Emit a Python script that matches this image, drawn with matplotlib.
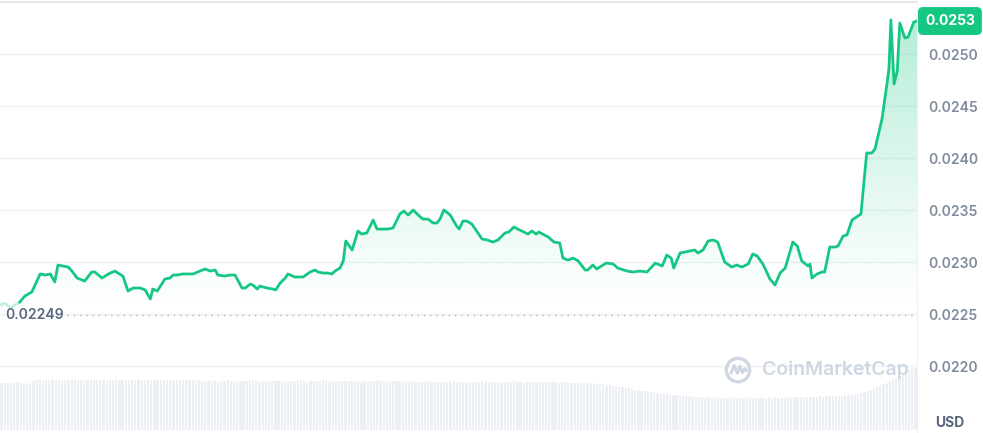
"""24h price chart in the CoinMarketCap style: green line, gradient fill, volume strip."""
import matplotlib
matplotlib.use("Agg")
import matplotlib.pyplot as plt                                    # noqa: E402
import numpy as np                                                 # noqa: E402
from matplotlib.patches import Circle                              # noqa: E402

plt.rcParams["font.family"] = ["Inter", "DejaVu Sans"]

# minutes since start of the 24h window, and price in USD
minutes = [
    0, 8, 16, 31, 39, 50, 63, 71, 79, 86,
    91, 107, 113, 121, 133, 144, 149, 160, 173, 181,
    185, 193, 201, 209, 220, 228, 236, 240, 247, 259,
    267, 272, 278, 287, 303, 314, 322, 330, 338, 342,
    353, 361, 369, 380, 385, 393, 397, 404, 408, 419,
    429, 433, 440, 448, 452, 463, 476, 487, 495, 499,
    507, 515, 521, 526, 534, 539, 543, 553, 562, 568,
    576, 586, 592, 601, 609, 617, 628, 634, 641, 649,
    655, 664, 672, 680, 686, 691, 697, 707, 716, 721,
    727, 733, 741, 757, 765, 774, 782, 793, 799, 807,
    813, 829, 835, 842, 846, 861, 870, 879, 884, 892,
    900, 908, 919, 923, 931, 937, 952, 963, 970, 985,
    994, 1005, 1016, 1029, 1040, 1047, 1054, 1058, 1068, 1076,
    1083, 1091, 1096, 1104, 1112, 1120, 1127, 1138, 1149, 1157,
    1165, 1175, 1182, 1189, 1198, 1209, 1217, 1225, 1233, 1245,
    1252, 1259, 1269, 1272, 1275, 1283, 1291, 1295, 1303, 1311,
    1316, 1324, 1330, 1338, 1352, 1361, 1369, 1374, 1385, 1393,
    1396, 1399, 1404, 1409, 1413, 1421, 1426, 1435, 1440,
]
prices = [
    0.022587, 0.022606, 0.022558, 0.022615, 0.022673, 0.022712, 0.022885, 0.022875, 0.022885, 0.022808,
    0.022971, 0.022952, 0.022913, 0.022846, 0.022817, 0.022904, 0.022904, 0.022846, 0.022894, 0.022913,
    0.022894, 0.022865, 0.022721, 0.022750, 0.022750, 0.022731, 0.022644, 0.022740, 0.022721, 0.022837,
    0.022846, 0.022875, 0.022875, 0.022885, 0.022885, 0.022913, 0.022933, 0.022913, 0.022923, 0.022875,
    0.022865, 0.022875, 0.022875, 0.022750, 0.022750, 0.022788, 0.022779, 0.022740, 0.022769, 0.022750,
    0.022740, 0.022731, 0.022798, 0.022846, 0.022885, 0.022856, 0.022856, 0.022904, 0.022923, 0.022904,
    0.022894, 0.022894, 0.022885, 0.022913, 0.022942, 0.023010, 0.023202, 0.023115, 0.023298, 0.023269,
    0.023279, 0.023404, 0.023317, 0.023317, 0.023317, 0.023327, 0.023462, 0.023490, 0.023452, 0.023500,
    0.023462, 0.023413, 0.023413, 0.023375, 0.023375, 0.023413, 0.023500, 0.023452, 0.023356, 0.023317,
    0.023394, 0.023394, 0.023365, 0.023221, 0.023212, 0.023192, 0.023212, 0.023279, 0.023288, 0.023337,
    0.023317, 0.023269, 0.023298, 0.023269, 0.023288, 0.023240, 0.023192, 0.023183, 0.023038, 0.023019,
    0.023038, 0.023010, 0.022923, 0.022923, 0.022971, 0.022933, 0.022990, 0.022981, 0.022942, 0.022913,
    0.022904, 0.022913, 0.022904, 0.022990, 0.022962, 0.023067, 0.023038, 0.022942, 0.023087, 0.023096,
    0.023106, 0.023115, 0.023087, 0.023115, 0.023202, 0.023212, 0.023192, 0.023000, 0.022952, 0.022971,
    0.022952, 0.022981, 0.023077, 0.023058, 0.022981, 0.022837, 0.022779, 0.022894, 0.022942, 0.023192,
    0.023154, 0.023010, 0.022962, 0.022981, 0.022846, 0.022885, 0.022904, 0.022904, 0.023144, 0.023144,
    0.023154, 0.023250, 0.023260, 0.023404, 0.023462, 0.024048, 0.024048, 0.024086, 0.024375, 0.024721,
    0.024865, 0.025327, 0.024711, 0.024837, 0.025298, 0.025154, 0.025163, 0.025308, 0.025317,
]
open_price = 0.02249

# 5-minute volume, relative units
volume = [
    47, 47, 46, 47, 47, 48, 47, 47, 46, 47, 49, 50,
    50, 49, 50, 50, 51, 50, 50, 49, 50, 50, 51, 50,
    50, 50, 49, 50, 50, 51, 50, 50, 50, 49, 50, 50,
    51, 50, 50, 50, 49, 50, 50, 51, 50, 50, 50, 49,
    50, 50, 51, 50, 50, 50, 49, 50, 50, 50, 51, 50,
    50, 49, 50, 49, 49, 50, 49, 49, 48, 49, 49, 50,
    49, 49, 48, 49, 49, 49, 50, 49, 49, 48, 49, 49,
    49, 50, 49, 49, 49, 48, 49, 49, 49, 50, 49, 49,
    48, 49, 49, 49, 49, 50, 49, 48, 49, 49, 49, 49,
    49, 49, 50, 49, 49, 48, 49, 49, 49, 49, 50, 49,
    49, 48, 49, 49, 49, 49, 48, 48, 48, 49, 48, 48,
    48, 48, 49, 48, 48, 48, 47, 48, 48, 48, 49, 48,
    48, 48, 48, 47, 48, 48, 48, 49, 48, 48, 48, 48,
    47, 48, 48, 48, 48, 49, 48, 48, 47, 48, 48, 48,
    48, 48, 47, 48, 48, 48, 48, 47, 48, 48, 48, 47,
    47, 48, 47, 47, 47, 46, 47, 46, 46, 46, 45, 45,
    44, 44, 43, 43, 42, 42, 41, 40, 40, 39, 39, 38,
    38, 37, 37, 36, 36, 36, 35, 35, 35, 34, 34, 34,
    34, 33, 33, 33, 33, 32, 33, 32, 32, 33, 32, 32,
    32, 32, 33, 32, 32, 32, 32, 33, 32, 32, 32, 32,
    32, 33, 32, 32, 32, 32, 33, 33, 32, 33, 33, 33,
    33, 33, 33, 33, 33, 34, 33, 34, 34, 34, 34, 34,
    34, 35, 35, 35, 36, 36, 37, 38, 39, 40, 42, 43,
    44, 46, 47, 49, 50, 52, 54, 56, 58, 60, 61, 62,
]

price_ticks = [0.0220, 0.0225, 0.0230, 0.0235, 0.0240, 0.0245, 0.0250]

GREEN = "#16c784"
GRID = "#eff2f5"
LABEL = "#808a9d"
DARK = "#58667e"
MARK = "#cfd6e4"

W, H = 983, 433


def box(x0, y0, x1, y1):
    """figure rect from pixel box (top-left origin)"""
    return [x0 / W, 1 - y1 / H, (x1 - x0) / W, (y1 - y0) / H]


fig = plt.figure(figsize=(W / 100, H / 100), dpi=100)

# volume strip
axv = fig.add_axes(box(0, 330, 917, 430))
axv.bar(np.arange(len(volume)), volume, width=0.7, color="#eceff3", linewidth=0)
axv.set_xlim(-0.5, len(volume) - 0.5)
axv.set_ylim(0, 100)
axv.axis("off")

# price
ax = fig.add_axes(box(0, 2, 917, 433))
ax.patch.set_alpha(0)
ymin, ymax = 0.021356, 0.0255
ax.set_xlim(0, 1440)
ax.set_ylim(ymin, ymax)

ax.set_yticks(price_ticks + [ymax])
ax.set_yticklabels([f"{t:.4f}" for t in price_ticks] + [""])
ax.yaxis.tick_right()
ax.tick_params(axis="y", length=0, pad=8, labelsize=10, labelcolor=LABEL)
for lab in ax.get_yticklabels():
    lab.set_fontweight("semibold")
ax.set_xticks([])
ax.yaxis.grid(True, color=GRID, lw=1)
ax.set_axisbelow(True)
for side in ("left", "bottom"):
    ax.spines[side].set_visible(False)
ax.spines["right"].set_color(GRID)
ax.spines["top"].set_color("#e6e8eb")
ax.spines["top"].set_linewidth(1.5)

# gradient fill under the line
t = np.asarray(minutes, float)
p = np.asarray(prices)
poly = ax.fill_between(t, p, ymin, color="none", lw=0)
yy = np.linspace(ymax, ymin, 400)
a = np.clip((yy - 0.02255) / (ymax - 0.02255), 0, 1) ** 1.1 * 0.34
grad = np.zeros((400, 1, 4))
grad[..., :3] = matplotlib.colors.to_rgb(GREEN)
grad[:, 0, 3] = a
img = ax.imshow(grad, extent=(0, 1440, ymin, ymax), aspect="auto",
                interpolation="bilinear", zorder=1)
img.set_clip_path(poly.get_paths()[0], transform=ax.transData)

ax.plot(t[:4], p[:4], color=GREEN, lw=2, alpha=0.25, zorder=3,
        solid_joinstyle="round")
ax.plot(t[3:], p[3:], color=GREEN, lw=2, zorder=3, solid_joinstyle="round")

# open price reference
ax.plot([105, 1440], [open_price, open_price], color="#a6b0c3", lw=1,
        ls=(0, (1, 3.5)), zorder=2)
ax.annotate(f"{open_price:.5f}", xy=(0, open_price), xytext=(5, 0),
            textcoords="offset pixels", va="center", ha="left",
            fontsize=10, fontweight="semibold", color=DARK)

# last price tag
ax.annotate(f"{prices[-1]:.4f}", xy=(1, prices[-1]),
            xycoords=("axes fraction", "data"), xytext=(8, 0),
            textcoords="offset pixels", va="center", ha="left",
            fontsize=10, fontweight="bold", color="white",
            bbox=dict(boxstyle="round,pad=0.45,rounding_size=0.3",
                      fc=GREEN, ec=GREEN), annotation_clip=False)

fig.text(950 / W, 1 - 423 / H, "USD", ha="center", va="center",
         fontsize=10, fontweight="bold", color=DARK)

# watermark
fig.text(762 / W, 1 - 370 / H, "CoinMarketCap", ha="left", va="center",
         fontsize=14, fontweight="semibold", color=MARK)
axl = fig.add_axes(box(724, 356, 752, 384))
axl.set_xlim(-1.1, 1.1)
axl.set_ylim(-1.1, 1.1)
axl.axis("off")
axl.add_patch(Circle((0, 0), 0.92, fill=False, ec=MARK, lw=2.4))
axl.plot([-0.55, -0.3, -0.05, 0.15, 0.35, 0.55, 0.65],
         [-0.25, 0.35, -0.25, 0.3, -0.2, 0.1, -0.05],
         color=MARK, lw=2.2, solid_joinstyle="round", solid_capstyle="round")

fig.savefig("out.png", dpi=100)
